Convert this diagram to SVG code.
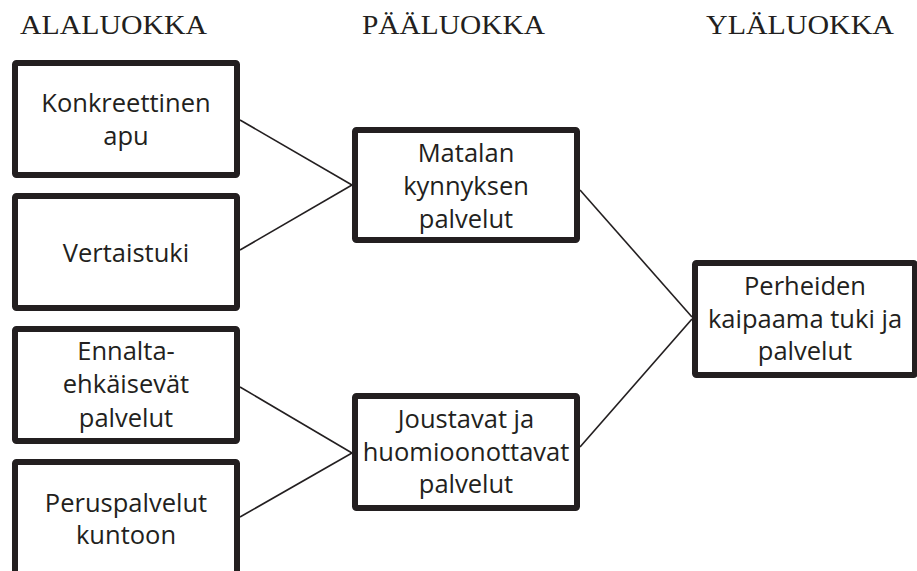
<svg xmlns="http://www.w3.org/2000/svg" width="917" height="571" viewBox="0 0 917 571">
<style>
.hdr{font-family:"Liberation Serif","Times New Roman",serif;font-size:27px;fill:#231f20}
.box{fill:#ffffff;stroke:#231f20;stroke-width:6;stroke-linejoin:round}
.lbl{font-family:"Open Sans","Liberation Sans",sans-serif;font-size:25.5px;fill:#231f20;text-anchor:middle}
.con{stroke:#231f20;stroke-width:1.6;fill:none}
</style>
<rect width="917" height="571" fill="#ffffff"/>
<g id="headers">
<text class="hdr" x="20" y="34" textLength="187" lengthAdjust="spacingAndGlyphs">ALALUOKKA</text>
<text class="hdr" x="362" y="34" textLength="183" lengthAdjust="spacingAndGlyphs">PÄÄLUOKKA</text>
<text class="hdr" x="706" y="34" textLength="188" lengthAdjust="spacingAndGlyphs">YLÄLUOKKA</text>
</g>
<g id="connectors">
<line class="con" x1="240" y1="120" x2="352" y2="185"/>
<line class="con" x1="240" y1="250" x2="352" y2="185"/>
<line class="con" x1="240" y1="387" x2="352" y2="453"/>
<line class="con" x1="240" y1="517" x2="352" y2="453"/>
<line class="con" x1="580" y1="190" x2="692" y2="317"/>
<line class="con" x1="580" y1="447" x2="692" y2="319"/>
</g>
<g id="konkreettinen">
<rect class="box" x="15" y="63" width="222" height="112" rx="1.5"/>
<text class="lbl" x="126" y="112">Konkreettinen</text>
<text class="lbl" x="126" y="145">apu</text>
</g>
<g id="vertaistuki">
<rect class="box" x="15" y="196" width="222" height="112" rx="1.5"/>
<text class="lbl" x="126" y="262">Vertaistuki</text>
</g>
<g id="ennalta">
<rect class="box" x="15" y="329" width="222" height="112" rx="1.5"/>
<text class="lbl" x="126" y="360">Ennalta-</text>
<text class="lbl" x="126" y="393">ehkäisevät</text>
<text class="lbl" x="126" y="427">palvelut</text>
</g>
<g id="peruspalvelut">
<rect class="box" x="15" y="462" width="222" height="114" rx="1.5"/>
<text class="lbl" x="126" y="512">Peruspalvelut</text>
<text class="lbl" x="126" y="544">kuntoon</text>
</g>
<g id="matalan">
<rect class="box" x="355" y="130" width="222" height="110" rx="1.5"/>
<text class="lbl" x="466" y="162">Matalan</text>
<text class="lbl" x="466" y="195">kynnyksen</text>
<text class="lbl" x="466" y="228">palvelut</text>
</g>
<g id="joustavat">
<rect class="box" x="355" y="396" width="222" height="112" rx="1.5"/>
<text class="lbl" x="466" y="428">Joustavat ja</text>
<text class="lbl" x="466" y="461">huomioonottavat</text>
<text class="lbl" x="466" y="493">palvelut</text>
</g>
<g id="perheiden">
<rect class="box" x="695" y="263" width="220" height="112" rx="1.5"/>
<text class="lbl" x="805" y="295">Perheiden</text>
<text class="lbl" x="805" y="328">kaipaama tuki ja</text>
<text class="lbl" x="805" y="360">palvelut</text>
</g>
</svg>
